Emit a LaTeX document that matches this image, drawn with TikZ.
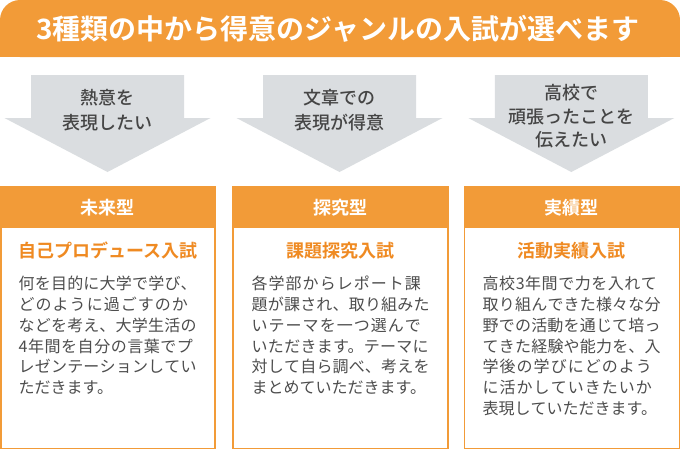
\documentclass[tikz,border=0pt]{standalone}
\usepackage{fontspec}
\newfontfamily\jp{Noto Sans CJK JP}[BoldFont={Noto Sans CJK JP Bold}]
\newfontfamily\jpmed{Noto Sans CJK JP Medium}
\definecolor{orng}{HTML}{F29B38}
\definecolor{orngtxt}{HTML}{EF8A22}
\definecolor{arrgray}{HTML}{DADDE0}
\definecolor{arrtxt}{HTML}{454545}
\definecolor{bodytxt}{HTML}{4D4D4D}
\XeTeXlinebreaklocale "ja"
\XeTeXlinebreakskip=0pt plus 3pt
\tolerance=9999
\emergencystretch=10pt
\tikzset{
  titletext/.style={text=white, inner sep=0pt, font={\jp\bfseries\fontsize{28pt}{32pt}\selectfont}},
  arrowtext/.style={text=arrtxt, inner sep=0pt, align=center, font={\jpmed\fontsize{18pt}{#1}\selectfont}},
  headtext/.style={text=white, inner sep=0pt, font={\jp\bfseries\fontsize{18pt}{20pt}\selectfont}},
  subtext/.style={text=orngtxt, inner sep=0pt, font={\jp\bfseries\fontsize{18pt}{20pt}\selectfont}},
  bodytext/.style={text=bodytxt, anchor=north west, inner sep=0pt, text width=180pt,
    font={\jp\fontsize{16pt}{20.8pt}\selectfont}},
  boxframe/.style={draw=orng, line width=1.5pt, fill=white},
  headbar/.style={fill=orng},
  bigarrow/.pic={\fill[arrgray] (-76.5,75) -- (76.5,75) -- (76.5,118) -- (103,118) -- (0,172) -- (-103,118) -- (-76.5,118) -- cycle;}
}
\begin{document}
\begin{tikzpicture}[x=1pt,y=-1pt]
\useasboundingbox (0,0) rectangle (680,450);
\fill[white] (0,0) rectangle (680,450);
% banner
\fill[orng, rounded corners=20pt] (0,0) rectangle (680,57);
\fill[orng] (0,30) rectangle (680,57);
\node[titletext] (title) at (338,28.5) {3種類の中から得意のジャンルの入試が選べます};
% arrows
\pic at (107.5,0) {bigarrow};
\pic at (339.5,0) {bigarrow};
\pic at (571.3,0) {bigarrow};
\node[arrowtext=25pt] (a1) at (107.5,110.5) {熱意を\\表現したい};
\node[arrowtext=25pt] (a2) at (339.5,110.5) {文章での\\表現が得意};
\node[arrowtext=23.5pt] (a3) at (571.3,116.5) {高校で\\頑張ったことを\\伝えたい};
% boxes
\draw[boxframe] (0.75,187) rectangle (215,448.5);
\draw[boxframe] (233,187) rectangle (448,448.5);
\draw[boxframe] (464.5,187) rectangle (679.25,448.5);
\fill[headbar] (0,187) rectangle (215.75,228);
\fill[headbar] (232.25,187) rectangle (448.75,228);
\fill[headbar] (463.75,187) rectangle (680,228);
\node[headtext] (h1) at (107.9,208) {未来型};
\node[headtext] (h2) at (340.5,208) {探究型};
\node[headtext] (h3) at (571.9,208) {実績型};
\node[subtext] (s1) at (107.9,250.5) {自己プロデュース入試};
\node[subtext] (s2) at (340.5,250.5) {課題探究入試};
\node[subtext] (s3) at (571.9,250.5) {活動実績入試};
\node[bodytext] (b1) at (18.5,274.4) {\rule{0pt}{15pt}何を目的に大学で学び、\linebreak どのように過ごすのか\linebreak などを考え、大学生活の\linebreak 4年間を自分の言葉でプ\linebreak レゼンテーションしてい\linebreak ただきます。};
\node[bodytext] (b2) at (251.5,274.4) {\rule{0pt}{15pt}各学部からレポート課\linebreak 題が課され、取り組みた\linebreak いテーマを一つ選んで\linebreak いただきます。テーマに\linebreak 対して自ら調べ、考えを\linebreak まとめていただきます。};
\node[bodytext] (b3) at (482.5,274.4) {\rule{0pt}{15pt}高校3年間で力を入れて\linebreak 取り組んできた様々な分\linebreak 野での活動を通じて培っ\linebreak てきた経験や能力を、入\linebreak 学後の学びにどのよう\linebreak に活かしていきたいか\linebreak 表現していただきます。};
\end{tikzpicture}
\end{document}
